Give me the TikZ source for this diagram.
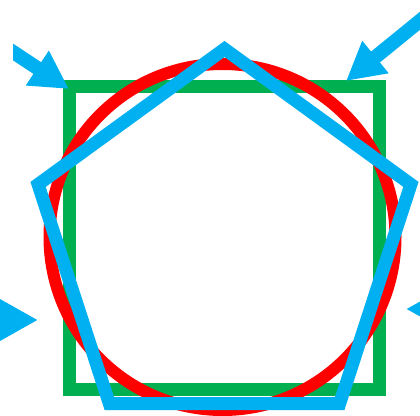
\documentclass[tikz,border=0pt]{standalone}
\usetikzlibrary{arrows.meta}
\definecolor{sqgreen}{HTML}{00B050}
\definecolor{ringred}{HTML}{FF0000}
\definecolor{pentblue}{HTML}{00B0F0}

\begin{document}
\begin{tikzpicture}[x=1pt, y=-1pt,
  pointer/.style={draw=pentblue, fill=pentblue, line width=14pt, -{Triangle[length=38pt, width=39pt]}}]
\useasboundingbox (0,0) rectangle (420,415);
\clip (0,0) rectangle (420,415);
\draw[line width=13pt, sqgreen] (69.5,86.5) rectangle (379,389.5);
\draw[line width=12pt, ringred] (222.5,237) circle (173);
\draw[line width=13pt, pentblue] (224.5,49) -- (410.9,184.4) -- (339.7,403.5) -- (109.3,403.5) -- (38.1,184.4) -- cycle;
% arrows pointing in
\coordinate (tl tail) at (0,43.4);
\coordinate (tl tip) at (69,89);
\coordinate (tr tail) at (439,5.3);
\coordinate (tr tip) at (346,81);
\coordinate (l tail) at (-60,320);
\coordinate (l tip) at (38,320);
\coordinate (r tail) at (500,309);
\coordinate (r tip) at (406,309);
\begin{scope}
\clip (13,0) rectangle (420,415);
\draw[pointer] (tl tail) -- (tl tip);
\end{scope}
\draw[pointer] (tr tail) -- (tr tip);
\draw[pointer] (l tail) -- (l tip);
\draw[pointer] (r tail) -- (r tip);
\end{tikzpicture}
\end{document}
